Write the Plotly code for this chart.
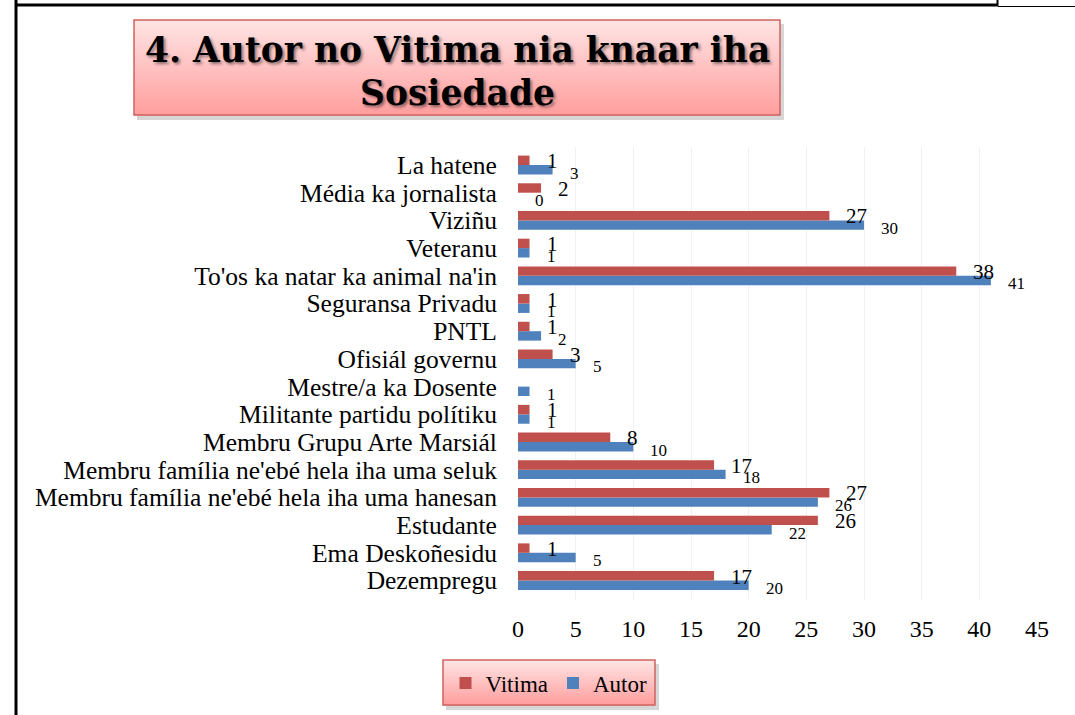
import plotly.graph_objects as go

categories = [
    "La hatene",
    "Média ka jornalista",
    "Viziñu",
    "Veteranu",
    "To'os ka natar ka animal na'in",
    "Seguransa Privadu",
    "PNTL",
    "Ofisiál governu",
    "Mestre/a ka Dosente",
    "Militante partidu polítiku",
    "Membru Grupu Arte Marsiál",
    "Membru família ne'ebé hela iha uma seluk",
    "Membru família ne'ebé hela iha uma hanesan",
    "Estudante",
    "Ema Deskoñesidu",
    "Dezempregu",
]
vitima = [1, 2, 27, 1, 38, 1, 1, 3, None, 1, 8, 17, 27, 26, 1, 17]
autor = [3, 0, 30, 1, 41, 1, 2, 5, 1, 1, 10, 18, 26, 22, 5, 20]
x_ticks = [0, 5, 10, 15, 20, 25, 30, 35, 40, 45]

title_lines = ["4. Autor no Vitima nia knaar iha", "Sosiedade"]

W, H = 1075, 715
PL, PR, PT, PB = 518, 1037, 147, 600  # plot area in pixels


def px(x):
    return (x - PL) / (PR - PL)


def py(y):
    return (PB - y) / (PB - PT)


RED = "#C0504D"
BLUE = "#4F81BD"
FONT = "Liberation Serif"

fig = go.Figure()
fig.add_trace(go.Bar(y=categories, x=autor, orientation="h", name="Autor",
                     marker=dict(color=BLUE, line=dict(width=0)), legendrank=2))
fig.add_trace(go.Bar(y=categories, x=vitima, orientation="h", name="Vitima",
                     marker=dict(color=RED, line=dict(width=0)), legendrank=1))

annotations = []
for c, v in zip(categories, vitima):
    if v is None:
        continue
    annotations.append(dict(x=v, y=c, xref="x", yref="y", text=str(v), showarrow=False,
                            xanchor="left", yanchor="middle", xshift=15, yshift=4,
                            font=dict(family=FONT, size=21, color="black")))
for c, v in zip(categories, autor):
    if v is None:
        continue
    annotations.append(dict(x=v, y=c, xref="x", yref="y", text=str(v), showarrow=False,
                            xanchor="left", yanchor="middle", xshift=15, yshift=-8,
                            font=dict(family=FONT, size=17, color="black")))

shapes = []


def gradient_box(x0, y0, x1, y1, top, bottom, border, n=30):
    shapes.append(dict(type="rect", xref="paper", yref="paper", layer="above",
                       x0=px(x0 + 3), x1=px(x1 + 4), y0=py(y0 + 4), y1=py(y1 + 5),
                       fillcolor="rgba(0,0,0,0.16)", line=dict(width=0)))
    t = [int(top[i:i + 2], 16) for i in (1, 3, 5)]
    b = [int(bottom[i:i + 2], 16) for i in (1, 3, 5)]
    h = (y1 - y0) / n
    for i in range(n):
        f = i / (n - 1)
        col = "rgb(%d,%d,%d)" % tuple(round(t[k] + (b[k] - t[k]) * f) for k in range(3))
        shapes.append(dict(type="rect", xref="paper", yref="paper", layer="above",
                           x0=px(x0), x1=px(x1), y0=py(y0 + i * h), y1=py(y0 + (i + 1) * h + 0.6),
                           fillcolor=col, line=dict(width=0)))
    shapes.append(dict(type="rect", xref="paper", yref="paper", layer="above",
                       x0=px(x0), x1=px(x1), y0=py(y0), y1=py(y1),
                       fillcolor="rgba(0,0,0,0)", line=dict(color=border, width=1.5)))


gradient_box(134, 20, 780, 115, "#FFE3E3", "#FF9F9F", "#CF6360")
gradient_box(443, 660, 655, 705, "#FFE3E3", "#FF9F9F", "#CF6360")

# page frame lines
shapes.append(dict(type="line", xref="paper", yref="paper", x0=px(16), x1=px(16), y0=py(0), y1=py(715),
                   line=dict(color="black", width=3)))
shapes.append(dict(type="line", xref="paper", yref="paper", x0=px(16), x1=px(998), y0=py(5), y1=py(5),
                   line=dict(color="black", width=3)))
shapes.append(dict(type="line", xref="paper", yref="paper", x0=px(997.5), x1=px(997.5), y0=py(0), y1=py(6),
                   line=dict(color="black", width=2)))
shapes.append(dict(type="line", xref="paper", yref="paper", x0=px(998), x1=px(1075), y0=py(6.5), y1=py(6.5),
                   line=dict(color="black", width=1.2)))

title_font = dict(family="DejaVu Serif", size=34.5, color="black", weight="bold",
                  shadow="2px 2px 3px rgba(0,0,0,0.45)")
annotations.append(dict(x=px(457), y=py(50), xref="paper", yref="paper", text=title_lines[0],
                        showarrow=False, xanchor="center", yanchor="middle", font=title_font))
annotations.append(dict(x=px(457), y=py(93), xref="paper", yref="paper", text=title_lines[1],
                        showarrow=False, xanchor="center", yanchor="middle", font=title_font))

fig.update_layout(
    width=W, height=H,
    margin=dict(l=PL, r=W - PR, t=PT, b=H - PB, pad=0, autoexpand=False),
    paper_bgcolor="white", plot_bgcolor="white",
    barmode="group", bargap=0.32, bargroupgap=0,
    showlegend=True,
    legend=dict(orientation="h", x=px(549), y=py(683), xanchor="center", yanchor="middle",
                bgcolor="rgba(0,0,0,0)", borderwidth=0,
                font=dict(family=FONT, size=23, color="black"), traceorder="normal"),
    xaxis=dict(range=[0, 45], tickvals=x_ticks, showgrid=True, gridcolor="#F0F0F0",
               zeroline=False, showline=False, ticks="outside", ticklen=7,
               tickcolor="rgba(0,0,0,0)", tickfont=dict(family=FONT, size=24, color="black")),
    yaxis=dict(categoryorder="array", categoryarray=list(reversed(categories)),
               tickmode="array", tickvals=categories, ticktext=categories,
               showgrid=False, zeroline=False, showline=False, ticks="outside", ticklen=15,
               tickcolor="rgba(0,0,0,0)", tickfont=dict(family=FONT, size=25.5, color="black")),
    annotations=annotations,
    shapes=shapes,
)

fig.write_html("out.html", config={"displayModeBar": False},
               post_script="document.body.style.margin='0';")
